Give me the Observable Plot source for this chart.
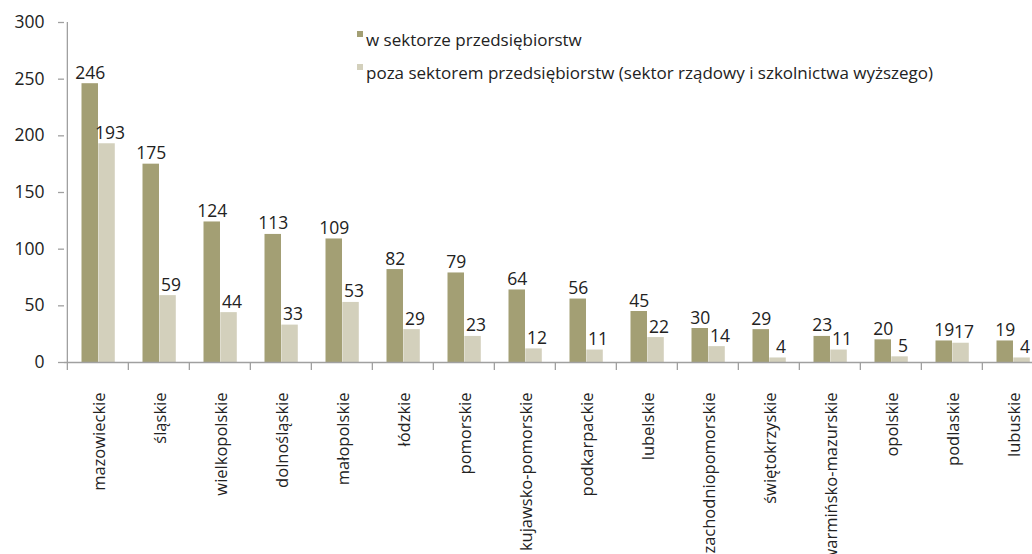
<!DOCTYPE html>
<html>
<head>
<meta charset="utf-8">
<script src="https://cdn.jsdelivr.net/npm/d3@7"></script>
<script src="https://cdn.jsdelivr.net/npm/@observablehq/plot@0.6"></script>
<style>
  html, body { margin: 0; padding: 0; background: #fff; overflow: hidden; }
  #wrap { position: relative; width: 1032px; height: 554px; overflow: hidden; }
  #legend { position: absolute; left: 357px; top: 28px; font-family: "Open Sans", sans-serif; font-size: 17px; color: #222; }
  .item { position: relative; height: 33px; padding-left: 9px; white-space: nowrap; line-height: 24px; }
  .sw { position: absolute; left: 0; top: 3px; width: 6px; height: 6px; }
</style>
</head>
<body>
<div id="wrap"><div id="legend"></div></div>
<script>
const regions = ["mazowieckie","śląskie","wielkopolskie","dolnośląskie","małopolskie","łódzkie","pomorskie","kujawsko-pomorskie","podkarpackie","lubelskie","zachodniopomorskie","świętokrzyskie","warmińsko-mazurskie","opolskie","podlaskie","lubuskie"];
const enterprise = [246,175,124,113,109,82,79,64,56,45,30,29,23,20,19,19];
const nonEnterprise = [193,59,44,33,53,29,23,12,11,22,14,4,11,5,17,4];
const seriesNames = ["w sektorze przedsiębiorstw","poza sektorem przedsiębiorstw (sektor rządowy i szkolnictwa wyższego)"];
const seriesColors = ["#a39f74","#d3d0bc"];
const yTicks = [0,50,100,150,200,250,300];

const W = 1045, H = 554, mL = 64, mR = 0, mT = 22, mB = 192;
const bw = (W - mL - mR) / regions.length;
const padL = 14.5, barW = 16.8;

const dataA = regions.map((r, i) => ({region: r, value: enterprise[i]}));
const dataB = regions.map((r, i) => ({region: r, value: nonEnterprise[i]}));

const font = "'Open Sans', sans-serif";
const axisColor = "#a0a0a0";
const textColor = "#222";

const chart = Plot.plot({
  width: W, height: H,
  marginLeft: mL, marginRight: mR, marginTop: mT, marginBottom: mB,
  style: {fontFamily: font, background: "transparent", overflow: "visible", maxWidth: "none"},
  x: {domain: regions, padding: 0, axis: null, label: null},
  y: {domain: [0, 300], axis: null, label: null},
  marks: [
    Plot.barY(dataA, {x: "region", y: "value", fill: seriesColors[0], insetLeft: padL, insetRight: bw - padL - barW}),
    Plot.barY(dataB, {x: "region", y: "value", fill: seriesColors[1], insetLeft: padL + barW, insetRight: bw - padL - 2 * barW}),
    Plot.text(dataA, {x: "region", y: "value", text: d => String(d.value), dx: padL + barW / 2 - bw / 2, dy: -5, lineAnchor: "bottom", fontSize: 17.5, fill: textColor}),
    Plot.text(dataB, {x: "region", y: "value", text: d => String(d.value), dx: padL + 1.5 * barW - bw / 2 + 3, dy: -5, lineAnchor: "bottom", fontSize: 17.5, fill: textColor}),
    Plot.ruleY([0], {stroke: axisColor, strokeWidth: 1.3}),
    Plot.ruleX([regions[0]], {dx: -bw / 2, y1: 0, y2: 300, stroke: axisColor, strokeWidth: 1.3}),
    Plot.axisY({ticks: yTicks, tickSize: 6, tickPadding: 14, stroke: axisColor, fontSize: 17.5, color: textColor, tickFormat: d => String(d), strokeWidth: 1.3, label: null}),
    Plot.axisX({tickSize: 8, tickFormat: () => "", dx: -bw / 2, stroke: axisColor, strokeWidth: 1.3, label: null}),
    Plot.axisX({tickSize: 0, tickRotate: -90, tickPadding: 30, fontSize: 16.5, color: textColor, dx: 2, label: null})
  ]
});
chart.style.position = "absolute";
chart.style.left = "0px";
chart.style.top = "0px";
chart.style.maxWidth = "none";
document.getElementById("wrap").prepend(chart);

const legend = document.getElementById("legend");
seriesNames.forEach((name, i) => {
  const item = document.createElement("div");
  item.className = "item";
  const sw = document.createElement("span");
  sw.className = "sw";
  sw.style.background = seriesColors[i];
  item.appendChild(sw);
  item.appendChild(document.createTextNode(name));
  legend.appendChild(item);
});
</script>
</body>
</html>
